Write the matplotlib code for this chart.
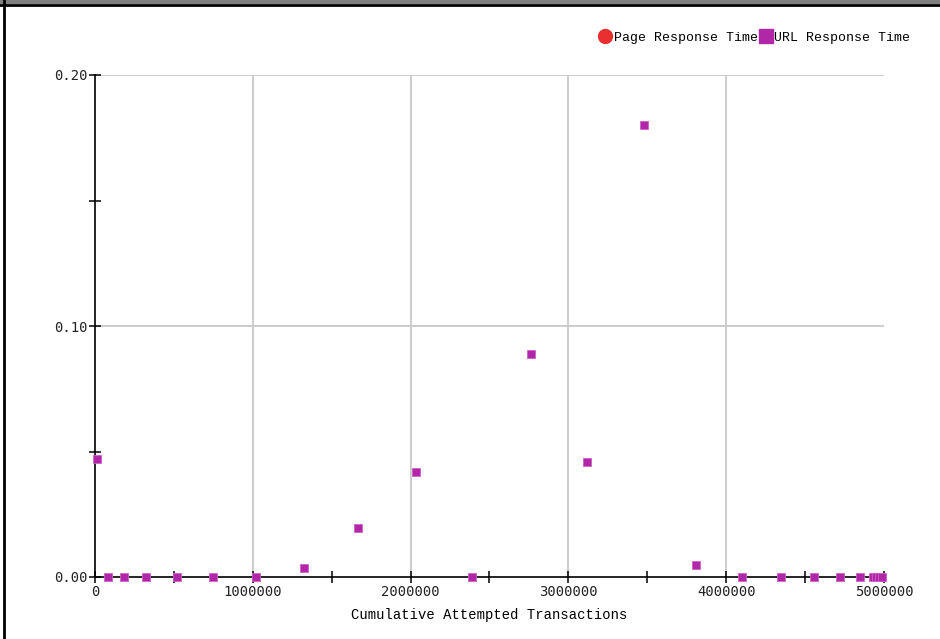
import matplotlib
matplotlib.use('Agg')
import matplotlib.pyplot as plt
from matplotlib.lines import Line2D
from matplotlib.patches import Rectangle

# URL response time samples
url_x = [12700, 82000, 182000, 324000, 520000, 749000, 1022000, 1326000,
         1669000, 2037000, 2392000, 2760000, 3115000, 3477000, 3807000,
         4099000, 4346000, 4556000, 4721000, 4848000, 4930000, 4950000,
         4970000, 4985000]
url_y = [0.047, 0.0, 0.0, 0.0, 0.0, 0.0, 0.0, 0.0036,
         0.0195, 0.042, 0.0, 0.089, 0.046, 0.180, 0.0048,
         0.0, 0.0, 0.0, 0.0, 0.0, 0.0, 0.0,
         0.0, 0.0]
# page response time series (hidden, nothing visible)
page_x = []
page_y = []

xticks = [0, 1000000, 2000000, 3000000, 4000000, 5000000]
xminor = [500000, 1500000, 2500000, 3500000, 4500000]
yticks = [0.0, 0.10, 0.20]
yminor = [0.05, 0.15]

purple = '#B027A8'
red = '#E83030'
mono = 'Liberation Mono'
digits = 'DejaVu Sans Mono'

fig = plt.figure(figsize=(9.4, 6.39), dpi=100)
ax = fig.add_axes([95/940, 1-577/639, (884-95)/940, (577-75)/639])

for v in xticks[1:-1]:
    ax.axvline(v, color='#cccccc', lw=1.4, zorder=0)
for v in yticks[1:]:
    ax.axhline(v, color='#cccccc', lw=1.4, zorder=0)

ax.plot(page_x, page_y, 'o', color=red, ms=8, ls='none', clip_on=False)
ax.plot(url_x, url_y, 's', color=purple, mec='#d060c8', mew=0.6, ms=6,
        ls='none', clip_on=False, zorder=3)

ax.set_xlim(0, 5000000)
ax.set_ylim(0, 0.2)
ax.set_xticks(xticks)
ax.set_xticklabels([str(v) for v in xticks])
ax.set_xticks(xminor, minor=True)
ax.set_yticks(yticks)
ax.set_yticklabels(['0.00', '0.10', '0.20'])
ax.set_yticks(yminor, minor=True)
ax.tick_params(which='both', direction='inout', length=8, width=1.1, color='black')
ax.tick_params(axis='x', pad=2)
ax.tick_params(axis='y', pad=1)
for lab in ax.get_xticklabels() + ax.get_yticklabels():
    lab.set_fontfamily(digits)
    lab.set_fontsize(10)
    lab.set_color('#222222')

for s in ['top', 'right']:
    ax.spines[s].set_visible(False)
for s in ['left', 'bottom']:
    ax.spines[s].set_linewidth(1.2)

ax.set_xlabel('Cumulative Attempted Transactions', fontfamily=mono,
              fontsize=10, labelpad=6)

handles = [Line2D([], [], marker='o', color=red, ls='none', ms=10),
           Line2D([], [], marker='s', color=purple, ls='none', ms=10)]
fig.legend(handles, ['Page Response Time', 'URL Response Time'],
           loc='center right', bbox_to_anchor=(922/940, 1-38/639), ncol=2,
           frameon=False, handletextpad=0.15, columnspacing=0.1,
           handlelength=1.0, prop={'family': mono, 'size': 9.5})

# window frame remnants
fig.patches.append(Rectangle((0, 1-4/639), 1, 4/639, transform=fig.transFigure,
                             facecolor='#808080', edgecolor='none'))
fig.lines.append(Line2D([0, 1], [1-4.5/639, 1-4.5/639], transform=fig.transFigure,
                        color='black', lw=2))
fig.lines.append(Line2D([4/940, 4/940], [0, 1], transform=fig.transFigure,
                        color='black', lw=2))

fig.savefig('out.png', dpi=100)
